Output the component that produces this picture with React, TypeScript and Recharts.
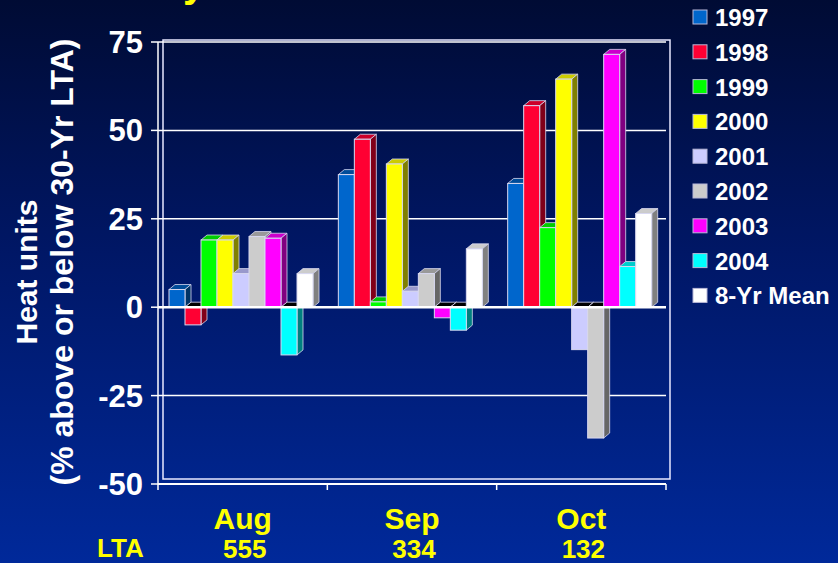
import React from "react";
import {
  BarChart,
  Bar,
  XAxis,
  YAxis,
  CartesianGrid,
  ReferenceLine,
} from "recharts";

const months = ["Aug", "Sep", "Oct"];
const ltaValues = ["555", "334", "132"];
const yTicks = [-50, -25, 0, 25, 50, 75];

const y1997 = [5, 37.5, 35];
const y1998 = [-5, 47.5, 57];
const y1999 = [19, 1.5, 22.5];
const y2000 = [19, 40.5, 64.5];
const y2001 = [9.5, 4.5, -12];
const y2002 = [20, 9.5, -37];
const y2003 = [19.5, -3, 71.5];
const y2004 = [-13.5, -6.5, 11.5];
const yMean = [9.5, 16.5, 26.5];

const seriesNames = ["1997", "1998", "1999", "2000", "2001", "2002", "2003", "2004", "8-Yr Mean"];
const seriesValues = [y1997, y1998, y1999, y2000, y2001, y2002, y2003, y2004, yMean];

// front / top / side colours for the fake 3D bars
const faceColors = ["#0066cc", "#ff0033", "#00ff00", "#ffff00", "#ccccff", "#cccccc", "#ff00ff", "#00ffff", "#ffffff"];
const topColors = ["#004c99", "#cc0029", "#00cc00", "#cccc00", "#9999cc", "#999999", "#cc00cc", "#00cccc", "#cccccc"];
const sideColors = ["#003366", "#800019", "#008000", "#808000", "#666680", "#666666", "#800080", "#008080", "#808080"];

const keys = seriesNames.map((_, i) => `s${i}`);
const data = months.map((m, mi) => {
  const row: Record<string, string | number> = { month: m };
  seriesValues.forEach((vals, si) => {
    row[keys[si]] = vals[mi];
  });
  return row;
});

const FONT = '"Liberation Sans", Arial, sans-serif';
const W = 838;
const H = 563;
const margin = { top: 42, right: 172, bottom: 0, left: 0 };
const xAxisHeight = 79;
const yAxisWidth = 158;
const plotLeft = margin.left + yAxisWidth;
const plotRight = W - margin.right;
const plotBottom = H - margin.bottom - xAxisHeight;
const bandWidth = (plotRight - plotLeft) / months.length;
const DX = 6;
const DY = 5;

function Bar3D(props: any) {
  const { x, y, width, height, idx, neg } = props;
  if (x == null || y == null) return null;
  const top = Math.min(y, y + height);
  const h = Math.abs(height);
  const r = x + width;
  const edge = "#d8d8f0";
  return (
    <g>
      <polygon
        points={`${x},${top} ${x + DX},${top - DY} ${r + DX},${top - DY} ${r},${top}`}
        fill={neg ? "#000000" : topColors[idx]}
        stroke={edge}
        strokeWidth={0.8}
      />
      <polygon
        points={`${r},${top} ${r + DX},${top - DY} ${r + DX},${top + h - DY} ${r},${top + h}`}
        fill={sideColors[idx]}
        stroke={edge}
        strokeWidth={0.8}
      />
      <rect x={x} y={top} width={width} height={h} fill={faceColors[idx]} stroke={edge} strokeWidth={1} />
    </g>
  );
}

function YTick(props: any) {
  const { y, payload } = props;
  return (
    <text x={143} y={y + 11} textAnchor="end" fill="#ffffff" fontSize={31} fontWeight="bold" fontFamily={FONT}>
      {payload.value}
    </text>
  );
}

function XTick(props: any) {
  const { x, y, payload, index } = props;
  return (
    <g>
      {index === 0 && <line x1={x - bandWidth / 2} x2={x - bandWidth / 2} y1={y} y2={y + 6} stroke="#ffffff" strokeWidth={1.5} />}
      <line x1={x + bandWidth / 2} x2={x + bandWidth / 2} y1={y} y2={y + 6} stroke="#ffffff" strokeWidth={1.5} />
      <text x={x} y={y + 45} textAnchor="middle" fill="#ffff00" fontSize={30} fontWeight="bold" fontFamily={FONT}>
        {payload.value}
      </text>
      <text x={x + 2} y={y + 74} textAnchor="middle" fill="#ffff00" fontSize={26} fontWeight="bold" fontFamily={FONT}>
        {ltaValues[index]}
      </text>
    </g>
  );
}

export default function App() {
  const wl = plotLeft + 5;
  const wr = plotRight + 4;
  const wt = margin.top - 2;
  const wb = plotBottom - 5;
  return (
    <div
      style={{
        position: "absolute",
        left: 0,
        top: 0,
        width: W,
        height: H,
        overflow: "hidden",
        background: "linear-gradient(to bottom, #000b34 0%, #001766 45%, #00299a 100%)",
      }}
    >
      {/* back wall frame */}
      <svg width={W} height={H} style={{ position: "absolute", left: 0, top: 0 }}>
        <polygon
          points={`${wl},${wt} ${wr},${wt} ${wr},${wb} ${wl},${wb}`}
          fill="none"
          stroke="#e8e8ff"
          strokeWidth={1.5}
        />
      </svg>

      <div style={{ position: "absolute", left: 0, top: 0 }}>
        <BarChart
          width={W}
          height={H}
          data={data}
          margin={margin}
          barCategoryGap="6.5%"
          barGap={0}
        >
          <CartesianGrid horizontal vertical={false} stroke="#ffffff" strokeWidth={1.5} />
          <XAxis
            dataKey="month"
            axisLine={{ stroke: "#ffffff", strokeWidth: 2 }}
            tickLine={false}
            tickSize={0}
            tickMargin={0}
            height={xAxisHeight}
            tick={<XTick />}
            interval={0}
          />
          <YAxis
            domain={[-50, 75]}
            ticks={yTicks}
            width={yAxisWidth}
            axisLine={{ stroke: "#ffffff", strokeWidth: 1.5 }}
            tickLine={{ stroke: "#ffffff", strokeWidth: 1.5 }}
            tickSize={7}
            tick={<YTick />}
            interval={0}
          />
          <ReferenceLine y={0} stroke="#ffffff" strokeWidth={2.5} />
          {keys.map((k, i) => (
            <Bar
              key={k}
              dataKey={k}
              isAnimationActive={false}
              shape={(p: any) => <Bar3D {...p} idx={i} neg={p.payload[k] < 0} />}
            />
          ))}
        </BarChart>
      </div>

      {/* labels and legend */}
      <svg width={W} height={H} style={{ position: "absolute", left: 0, top: 0, pointerEvents: "none" }}>
        <text x={183} y={-3} fill="#ffff00" fontSize={40} fontWeight="bold" fontFamily={FONT}>
          y
        </text>
        <text
          transform="translate(37,272) rotate(-90)"
          textAnchor="middle"
          fill="#ffffff"
          fontSize={30}
          fontWeight="bold"
          fontFamily={FONT}
        >
          Heat units
        </text>
        <text
          transform="translate(73,262) rotate(-90)"
          textAnchor="middle"
          fill="#ffffff"
          fontSize={32}
          fontWeight="bold"
          fontFamily={FONT}
        >
          (% above or below 30-Yr LTA)
        </text>
        <text x={97} y={557} fill="#ffff00" fontSize={26} fontWeight="bold" fontFamily={FONT}>
          LTA
        </text>
        {seriesNames.map((name, i) => (
          <g key={name}>
            <rect
              x={693}
              y={10 + i * 34.8}
              width={14}
              height={14}
              fill={faceColors[i]}
              stroke="#b8b8d8"
              strokeWidth={1}
            />
            <text x={715} y={26 + i * 34.8} fill="#ffffff" fontSize={24} fontWeight="bold" fontFamily={FONT}>
              {name}
            </text>
          </g>
        ))}
      </svg>
    </div>
  );
}
